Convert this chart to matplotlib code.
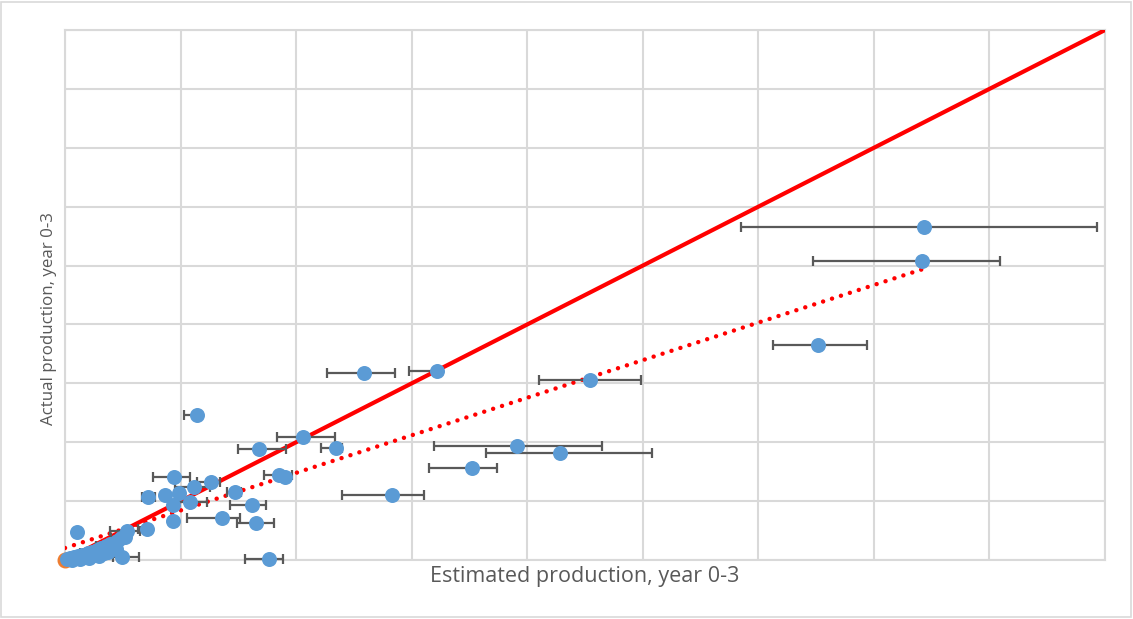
import numpy as np
import matplotlib.pyplot as plt
from matplotlib.patches import Rectangle

# estimated vs actual production (year 0-3), with estimate ranges
est = [743.3, 741.6, 651.6, 454.3, 321.9, 258.7, 391.1, 428.3, 352.2, 283.0,
       234.5, 206.0, 167.9, 185.2, 190.4, 161.8, 165.3, 176.5, 114.2, 94.3,
       126.3, 111.6, 147.1, 71.8, 86.5, 98.7, 108.2, 93.5, 135.9, 93.5,
       71.0, 53.7, 10.4, 49.3,
       1.7, 4.3, 7.8, 11.2, 14.7, 18.2, 19.9, 23.4, 26.0, 27.7,
       31.2, 33.7, 35.5, 38.9, 42.4, 45.0, 48.5, 51.9,
       6.0, 13.0, 21.0, 29.5, 37.0, 44.0]
actual = [565.5, 507.7, 365.1, 305.7, 320.9, 317.5, 193.6, 181.7, 156.2, 110.4,
          190.2, 208.9, 188.5, 144.3, 140.9, 93.4, 62.8, 1.7, 246.2, 140.9,
          132.5, 124.0, 115.5, 107.0, 110.4, 113.8, 98.5, 93.4, 71.3, 66.2,
          52.6, 49.2, 47.5, 5.1,
          1.7, 3.4, 5.1, 6.8, 8.5, 5.1, 11.9, 13.6, 8.5, 17.0,
          20.4, 11.9, 23.8, 27.2, 22.1, 32.3, 37.4, 39.1,
          0.5, 2.0, 3.0, 6.0, 14.0, 18.0]
# low / high end of the estimate (None = no range drawn)
est_low = [585.0, 647.3, 612.7, 410.2, 297.7, 226.7, 319.3, 364.3, 315.0, 239.7,
           221.5, 183.5, 149.7, 172.2, None, 142.8, 148.8, 155.8, 103.0, 76.2,
           114.2, 95.2, 140.2, 66.6, None, None, 96.1, None, 105.6, None,
           63.1, 38.9, 7.8, 41.5,
           None, None, None, None, None, None, 13.0, None, None, None,
           None, None, 26.8, None, None, None, 39.8, None,
           None, None, None, None, None, None]
est_high = [893.1, 809.1, 694.0, 498.4, 326.2, 285.6, 464.7, 507.9, 373.8, 310.7,
            239.7, 233.6, 191.2, 196.4, None, 173.9, 180.9, 188.6, 114.2, 108.2,
            134.1, 125.5, 152.3, 77.9, None, None, 122.9, None, 151.4, None,
            73.6, 64.9, 13.0, 64.0,
            None, None, None, None, None, None, 27.7, None, None, None,
            None, None, 43.3, None, None, None, 54.5, None,
            None, None, None, None, None, None]

# trendline
trend_intercept = 20.4
trend_slope = 0.638

fig = plt.figure(figsize=(11.33, 6.19), dpi=100)
fig.patches.append(Rectangle((0.001, 0.003), 0.997, 0.994, transform=fig.transFigure,
                             fill=False, edgecolor='#d9d9d9', linewidth=1.2))
ax = fig.add_axes([0.0574, 0.0953, 0.9179, 0.8562])

ax.set_xlim(0, 900)
ax.set_ylim(0, 900)
ax.set_xticks(np.arange(0, 901, 100))
ax.set_yticks(np.arange(0, 901, 100))
ax.tick_params(length=0, labelbottom=False, labelleft=False)
ax.grid(True, color='#d9d9d9', linewidth=1.5)
for s in ax.spines.values():
    s.set_color('#d9d9d9')
    s.set_linewidth(1.5)

# 1:1 line
ax.plot([0, 900], [0, 900], color='#ff0000', linewidth=3, zorder=3)

# linear trend
xt = np.array([0, max(est)])
ax.plot(xt, trend_intercept + trend_slope * xt, color='#ff0000', linewidth=3.2,
        linestyle=(0, (0.01, 2.1)), dash_capstyle='round', zorder=3)

# estimate ranges
for x, y, lo, hi in zip(est, actual, est_low, est_high):
    if lo is None:
        continue
    ax.errorbar([x], [y], xerr=[[x - lo], [hi - x]], fmt='none', ecolor='#595959',
                elinewidth=1.6, capsize=3.8, capthick=1.6, zorder=4, clip_on=False)

ax.plot([0], [0], 'o', color='#ed7d31', markersize=10.5, zorder=4, clip_on=False)
ax.plot(est, actual, 'o', color='#5b9bd5', markersize=10.8, markeredgewidth=0,
        zorder=5, clip_on=False)

ax.set_xlabel('Estimated production, year 0-3', fontsize=15.5, color='#595959',
              family='Open Sans')
ax.xaxis.set_label_coords(0.5, -0.012)
ax.set_ylabel('Actual production, year 0-3', fontsize=12.2, color='#595959',
              family='Open Sans')
ax.yaxis.set_label_coords(-0.008, 0.455)

fig.savefig('out.png', dpi=100)
